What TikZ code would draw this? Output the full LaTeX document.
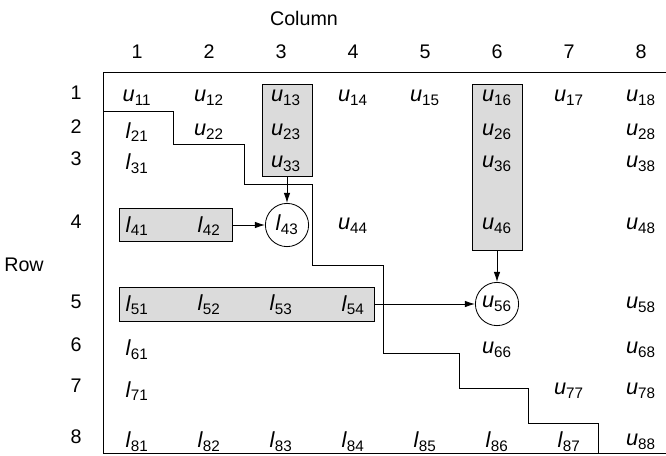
\documentclass[tikz,border=0pt]{standalone}
\usepackage{fontspec}
\setmainfont{Liberation Sans}
\usepackage{tikz}
\usetikzlibrary{arrows.meta,positioning}
\newcommand{\uent}[1]{\textit{u}\textsubscript{#1}}
\newcommand{\lent}[1]{\textit{l}\textsubscript{#1}}

\begin{document}
\begin{tikzpicture}[
  every node/.style={font=\fontsize{14}{17}\selectfont},
  entry/.style={font=\fontsize{15.5}{18}\selectfont, inner sep=1pt},
  shadebox/.style={draw, fill=gray!28, semithick, inner sep=0pt},
  pivot/.style={circle, draw, semithick, fill=white, minimum size=1.08cm,
    inner sep=0pt, font=\fontsize{15.5}{18}\selectfont},
  arrow/.style={-{Latex[length=2.5mm,width=1.6mm]}, semithick},
  frameline/.style={semithick},
]
\useasboundingbox (0,0) rectangle (16.65,-11.4);

% === Headers ===
\node (coltitle) at (7.6,-0.45) {Column};
\node (c1) at (3.425,-1.3) {1};
\node (c2) at (5.225,-1.3) {2};
\node (c3) at (7.025,-1.3) {3};
\node (c4) at (8.825,-1.3) {4};
\node (c5) at (10.625,-1.3) {5};
\node (c6) at (12.425,-1.3) {6};
\node (c7) at (14.225,-1.3) {7};
\node (c8) at (16.025,-1.3) {8};

\node (rowtitle) at (0.6,-6.625) {Row};
\node (r1) at (1.9,-2.325) {1};
\node (r2) at (1.9,-3.175) {2};
\node (r3) at (1.9,-3.975) {3};
\node (r4) at (1.9,-5.55) {4};
\node (r5) at (1.9,-7.55) {5};
\node (r6) at (1.9,-8.625) {6};
\node (r7) at (1.9,-9.65) {7};
\node (r8) at (1.9,-10.925) {8};

% === Frame and profile ===
\draw[frameline] (16.65,-1.8) -- (2.575,-1.8) -- (2.575,-11.325) -- (16.65,-11.325);
\draw[frameline] (2.575,-2.775) -| (4.325,-3.6) -| (6.1,-4.6) -| (7.8,-6.625)
  -| (9.575,-8.825) -| (11.475,-9.7) -| (13.2,-10.575) -| (14.95,-11.325);

% === Shaded blocks ===
\node[shadebox, minimum width=1.25cm, minimum height=2.3cm] (box3) at (7.175,-3.25) {};
\node[shadebox, minimum width=1.25cm, minimum height=4.15cm] (box6) at (12.425,-4.175) {};
\node[shadebox, minimum width=2.825cm, minimum height=0.825cm] (box4) at (4.3875,-5.625) {};
\node[shadebox, minimum width=6.375cm, minimum height=0.85cm] (box5) at (6.1625,-7.6) {};

% === Row 1 ===
\node[entry] (u11) at (3.425,-2.45) {\uent{11}};
\node[entry] (u12) at (5.225,-2.45) {\uent{12}};
\node[entry] (u13) at (7.15,-2.45) {\uent{13}};
\node[entry] (u14) at (8.825,-2.45) {\uent{14}};
\node[entry] (u15) at (10.625,-2.45) {\uent{15}};
\node[entry] (u16) at (12.425,-2.45) {\uent{16}};
\node[entry] (u17) at (14.225,-2.45) {\uent{17}};
\node[entry] (u18) at (16.025,-2.45) {\uent{18}};

% === Row 2 ===
\node[entry] (l21) at (3.425,-3.3) {\lent{21}};
\node[entry] (u22) at (5.225,-3.3) {\uent{22}};
\node[entry] (u23) at (7.15,-3.3) {\uent{23}};
\node[entry] (u26) at (12.425,-3.3) {\uent{26}};
\node[entry] (u28) at (16.025,-3.3) {\uent{28}};

% === Row 3 ===
\node[entry] (l31) at (3.425,-4.1) {\lent{31}};
\node[entry] (u33) at (7.15,-4.1) {\uent{33}};
\node[entry] (u36) at (12.425,-4.1) {\uent{36}};
\node[entry] (u38) at (16.025,-4.1) {\uent{38}};

% === Row 4 ===
\node[entry] (l41) at (3.425,-5.65) {\lent{41}};
\node[entry] (l42) at (5.225,-5.65) {\lent{42}};
\node[pivot] (l43) at (7.175,-5.625) {\lent{43}};
\node[entry] (u44) at (8.825,-5.65) {\uent{44}};
\node[entry] (u46) at (12.425,-5.65) {\uent{46}};
\node[entry] (u48) at (16.025,-5.65) {\uent{48}};

% === Row 5 ===
\node[entry] (l51) at (3.425,-7.625) {\lent{51}};
\node[entry] (l52) at (5.225,-7.625) {\lent{52}};
\node[entry] (l53) at (7.025,-7.625) {\lent{53}};
\node[entry] (l54) at (8.825,-7.625) {\lent{54}};
\node[pivot] (u56) at (12.425,-7.6) {\uent{56}};
\node[entry] (u58) at (16.025,-7.625) {\uent{58}};

% === Rows 6 to 8 ===
\node[entry] (l61) at (3.425,-8.75) {\lent{61}};
\node[entry] (u66) at (12.425,-8.75) {\uent{66}};
\node[entry] (u68) at (16.025,-8.75) {\uent{68}};
\node[entry] (l71) at (3.425,-9.775) {\lent{71}};
\node[entry] (u77) at (14.225,-9.775) {\uent{77}};
\node[entry] (u78) at (16.025,-9.775) {\uent{78}};
\node[entry] (l81) at (3.425,-11.05) {\lent{81}};
\node[entry] (l82) at (5.225,-11.05) {\lent{82}};
\node[entry] (l83) at (7.025,-11.05) {\lent{83}};
\node[entry] (l84) at (8.825,-11.05) {\lent{84}};
\node[entry] (l85) at (10.625,-11.05) {\lent{85}};
\node[entry] (l86) at (12.425,-11.05) {\lent{86}};
\node[entry] (l87) at (14.225,-11.05) {\lent{87}};
\node[entry] (u88) at (16.025,-11.05) {\uent{88}};

% === Arrows ===
\draw[arrow] (box3.south) -- (l43.north);
\draw[arrow] (box4.east) -- (l43.west);
\draw[arrow] (box6.south) -- (u56.north);
\draw[arrow] (box5.east) -- (u56.west);

\end{tikzpicture}
\end{document}
